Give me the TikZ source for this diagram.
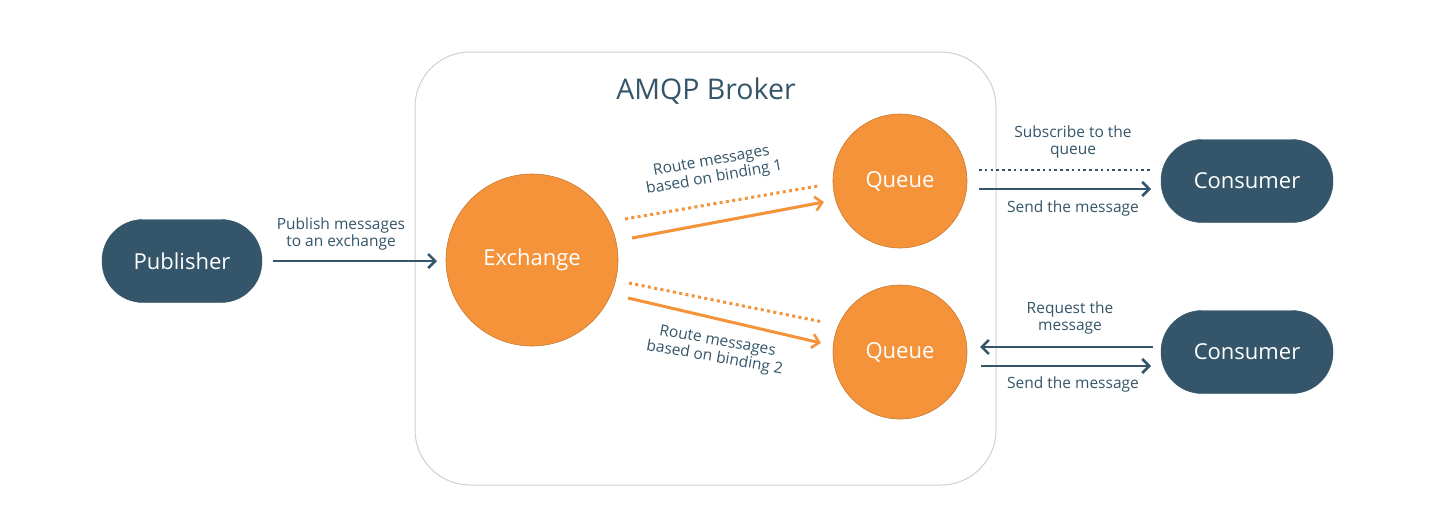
\documentclass[tikz,border=0pt]{standalone}
\usepackage{fontspec}
\setmainfont{Open Sans}
\usetikzlibrary{arrows.meta}
\definecolor{navy}{HTML}{34556A}
\definecolor{orng}{HTML}{F4933A}
\definecolor{orngline}{HTML}{C97A30}
\definecolor{boxline}{HTML}{D0D0D0}
\begin{document}
\begin{tikzpicture}[x=1pt,y=-1pt,
  pill/.style={rounded corners=41pt, fill=navy, draw=navy, text=white, font=\fontsize{22}{25}\selectfont, minimum height=83pt, inner sep=0pt},
  circ/.style={circle, fill=orng, draw=orngline, line width=0.6pt, text=white, font=\fontsize{22}{25}\selectfont, inner sep=0pt},
  lbl/.style={text=navy, font=\fontsize{15.5}{17}\selectfont, align=center, inner sep=0pt},
  darr/.style={draw=navy, line width=2.8pt, -{Straight Barb[length=7pt,width=14pt,line width=2.6pt]}},
  ddot/.style={draw=navy, line width=2.8pt, dash pattern=on 2.6pt off 3.2pt},
  oarr/.style={draw=orng, line width=3pt, -{Straight Barb[length=7pt,width=14pt,line width=2.6pt]}},
  odot/.style={draw=orng, line width=3pt, dash pattern=on 3pt off 3.4pt}]
\useasboundingbox (0,0) rectangle (1444,515);
\fill[white] (0,0) rectangle (1444,515);
% broker
\draw[boxline, line width=1pt, rounded corners=55pt] (415,52) rectangle (996,485);
\node[text=navy, font=\fontsize{28.5}{31}\selectfont] (title) at (706,91) {AMQP Broker};
% nodes
\node[pill, minimum width=160pt] (pub) at (182,261) {Publisher};
\node[circ, minimum size=172pt] (ex) at (532,260) {Exchange};
\node[circ, minimum size=134pt] (q1) at (900,181) {Queue};
\node[circ, minimum size=134pt] (q2) at (900,352) {Queue};
\node[pill, minimum width=172pt] (c1) at (1247,181) {Consumer};
\node[pill, minimum width=172pt] (c2) at (1247,352) {Consumer};
% coordinates
\coordinate (p1) at (273,261); \coordinate (p2) at (437,261);
\coordinate (a1) at (625,219); \coordinate (a2) at (818,186);
\coordinate (b1) at (632,238); \coordinate (b2) at (824,202);
\coordinate (d1) at (629,283); \coordinate (d2) at (823,322);
\coordinate (e1) at (628,298); \coordinate (e2) at (821,343);
\coordinate (s1) at (979,170); \coordinate (s2) at (1150,170);
\coordinate (t1) at (979,189); \coordinate (t2) at (1151,189);
\coordinate (r1) at (1153,347); \coordinate (r2) at (980,347);
\coordinate (u1) at (981,366); \coordinate (u2) at (1151,366);
% connectors
\draw[darr] (p1) -- (p2);
\draw[odot] (a1) -- (a2);
\draw[oarr] (b1) -- (b2);
\draw[odot] (d1) -- (d2);
\draw[oarr] (e1) -- (e2);
\draw[ddot] (s1) -- (s2);
\draw[darr] (t1) -- (t2);
\draw[darr] (r1) -- (r2);
\draw[darr] (u1) -- (u2);
% labels
\node[lbl] (lp) at (341,234) {Publish messages\\to an exchange};
\node[lbl, rotate=10] (l1) at (713,170) {Route messages\\based on binding 1};
\node[lbl, rotate=-10] (l2) at (716,350) {Route messages\\based on binding 2};
\node[lbl] (ls) at (1073,142) {Subscribe to the\\queue};
\node[lbl] (lt) at (1073,208) {Send the message};
\node[lbl] (lr) at (1070,318) {Request the\\message};
\node[lbl] (lu) at (1073,384) {Send the message};
\end{tikzpicture}
\end{document}
